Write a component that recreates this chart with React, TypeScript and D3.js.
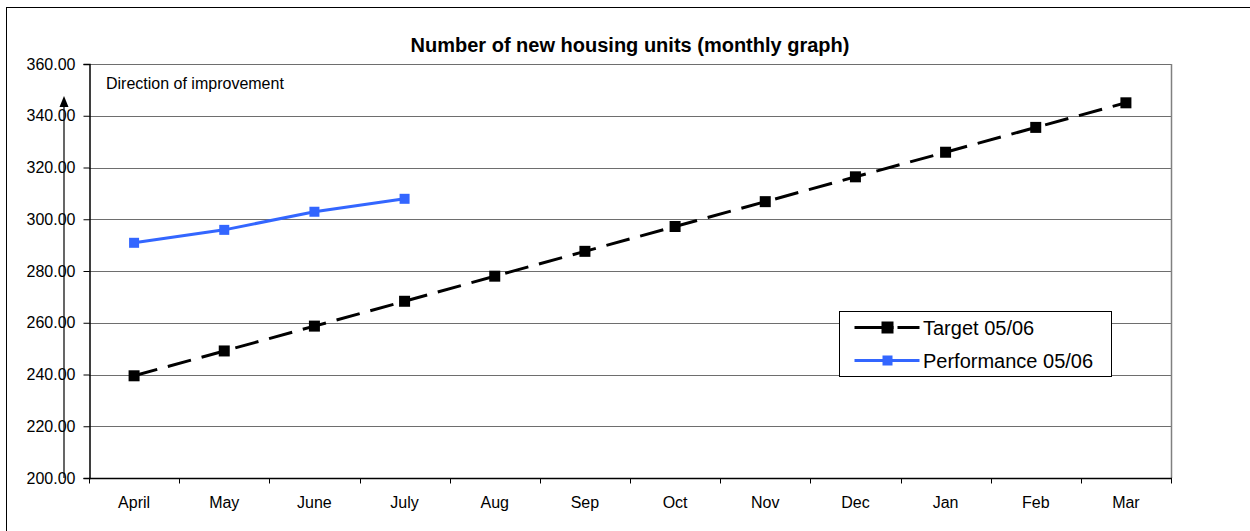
import React, { useEffect, useRef } from 'react';
import * as d3 from 'd3';

const months = ['April', 'May', 'June', 'July', 'Aug', 'Sep', 'Oct', 'Nov', 'Dec', 'Jan', 'Feb', 'Mar'];
const target = [239.5, 249.1, 258.7, 268.3, 278.0, 287.6, 297.2, 306.8, 316.4, 325.9, 335.5, 345.0];
const performance = [290.9, 295.9, 302.9, 307.9];
const yTicks = [200, 220, 240, 260, 280, 300, 320, 340, 360];

const App = () => {
  const svgRef = useRef<SVGSVGElement>(null);

  useEffect(() => {
    const svg = d3.select(svgRef.current);
    svg.selectAll('*').remove();

    const left = 89, right = 1171, top = 64, bottom = 478;
    const font = 'Liberation Sans, Arial, sans-serif';

    // outer chart frame
    svg.append('rect')
      .attr('x', 6.5).attr('y', 7.5)
      .attr('width', 1260).attr('height', 540)
      .attr('fill', 'white').attr('stroke', 'black').attr('stroke-width', 1);

    const x = d3.scaleBand().domain(months).range([left, right]);
    const y = d3.scaleLinear().domain([200, 360]).range([bottom, top]);
    const cx = (m: string) => (x(m) as number) + x.bandwidth() / 2;

    svg.append('text')
      .attr('x', 630).attr('y', 52)
      .attr('text-anchor', 'middle')
      .style('font', `bold 20px ${font}`)
      .text('Number of new housing units (monthly graph)');

    // grid lines
    svg.append('g')
      .selectAll('line')
      .data(yTicks.slice(1))
      .join('line')
      .attr('x1', left).attr('x2', right)
      .attr('y1', d => Math.round(y(d)) + 0.5).attr('y2', d => Math.round(y(d)) + 0.5)
      .attr('stroke', '#6e6e6e');

    // right edge of plot
    svg.append('line')
      .attr('x1', right + 0.5).attr('x2', right + 0.5)
      .attr('y1', top).attr('y2', bottom)
      .attr('stroke', '#808080').attr('stroke-width', 1.5);

    // y axis
    const yAxis = svg.append('g')
      .attr('transform', `translate(${left + 0.5},0)`)
      .call(d3.axisLeft(y).tickValues(yTicks).tickFormat(d3.format('.2f')).tickSizeOuter(0).tickSize(6));
    yAxis.select('.domain').attr('stroke', 'black').attr('stroke-width', 1.5);
    yAxis.selectAll('text').style('font', `16px ${font}`).attr('fill', 'black').attr('x', -14);

    // x axis: ticks at band boundaries
    const xAxis = svg.append('g').attr('transform', `translate(0,${bottom + 0.5})`);
    xAxis.append('line').attr('x1', left).attr('x2', right + 1).attr('stroke', 'black').attr('stroke-width', 1.5);
    xAxis.selectAll('line.tick')
      .data([...months.map(m => x(m) as number), right])
      .join('line')
      .attr('class', 'tick')
      .attr('x1', d => Math.round(d) + 0.5).attr('x2', d => Math.round(d) + 0.5)
      .attr('y1', 0).attr('y2', 5)
      .attr('stroke', 'black');
    xAxis.selectAll('text')
      .data(months)
      .join('text')
      .attr('x', d => cx(d)).attr('y', 29.5)
      .attr('text-anchor', 'middle')
      .style('font', `16px ${font}`)
      .text(d => d);

    // direction of improvement
    svg.append('text')
      .attr('x', 106).attr('y', 89)
      .style('font', `16px ${font}`)
      .text('Direction of improvement');
    svg.append('line')
      .attr('x1', 64).attr('x2', 64).attr('y1', 104).attr('y2', bottom)
      .attr('stroke', 'black').attr('stroke-width', 1.2);
    svg.append('path')
      .attr('d', 'M64,96 L59.5,107 L68.5,107 Z')
      .attr('fill', 'black');

    // target series
    const tLine = d3.line<number>().x((_, i) => cx(months[i])).y(d => y(d));
    svg.append('path')
      .attr('d', tLine(target))
      .attr('fill', 'none').attr('stroke', 'black').attr('stroke-width', 3)
      .attr('stroke-dasharray', '24,11');
    svg.append('g')
      .selectAll('rect')
      .data(target)
      .join('rect')
      .attr('x', (_, i) => cx(months[i]) - 5.5).attr('y', d => y(d) - 5.5)
      .attr('width', 11).attr('height', 11)
      .attr('fill', 'black');

    // performance series
    svg.append('path')
      .attr('d', tLine(performance))
      .attr('fill', 'none').attr('stroke', '#3366ff').attr('stroke-width', 3);
    svg.append('g')
      .selectAll('rect')
      .data(performance)
      .join('rect')
      .attr('x', (_, i) => cx(months[i]) - 5).attr('y', d => y(d) - 5)
      .attr('width', 10).attr('height', 10)
      .attr('fill', '#3366ff');

    // legend
    const lg = svg.append('g').attr('transform', 'translate(839.5,311.5)');
    lg.append('rect').attr('width', 272).attr('height', 65)
      .attr('fill', 'white').attr('stroke', 'black').attr('stroke-width', 1);
    const items = [
      { name: 'Target 05/06', color: 'black', dashed: true, yy: 16 },
      { name: 'Performance 05/06', color: '#3366ff', dashed: false, yy: 49 }
    ];
    items.forEach(it => {
      lg.append('line')
        .attr('x1', 15).attr('x2', 80).attr('y1', it.yy).attr('y2', it.yy)
        .attr('stroke', it.color).attr('stroke-width', 3)
        .attr('stroke-dasharray', it.dashed ? '39,4,22' : null);
      lg.append('rect')
        .attr('x', it.dashed ? 42 : 43).attr('y', it.yy - (it.dashed ? 6 : 5))
        .attr('width', it.dashed ? 12 : 10).attr('height', it.dashed ? 12 : 10)
        .attr('fill', it.color);
      lg.append('text')
        .attr('x', 83.5).attr('y', it.yy + 7.5)
        .style('font', `20px ${font}`)
        .text(it.name);
    });
  }, []);

  return (
    <svg ref={svgRef} width={1250} height={531}
      style={{ position: 'absolute', left: 0, top: 0, background: 'white' }} />
  );
};

export default App;
